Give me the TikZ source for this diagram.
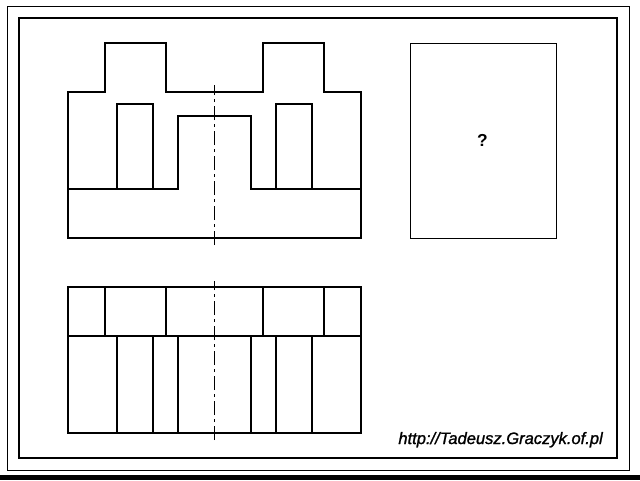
\documentclass[tikz,border=0pt]{standalone}
\usepackage{fontspec}
\setmainfont{Liberation Sans}
\newfontfamily\urlfont[ItalicFeatures={FakeBold=1.2}]{Liberation Sans}
\tikzset{
  thick line/.style={line width=1.5pt,line join=miter,line cap=rect},
  thin line/.style={line width=0.75pt},
  axis line/.style={line width=0.75pt,dash pattern=on 10.5pt off 3pt on 2.25pt off 3pt},
}
\begin{document}
\begin{tikzpicture}[x=0.75pt,y=-0.75pt]
\useasboundingbox (0,0) rectangle (640,480);
\fill[white] (0,0) rectangle (640,480);
\fill[black] (0,475) rectangle (640,480);
\draw[thin line] (7.5,6.5) rectangle (629.5,470);
\draw[thick line] (19,18) rectangle (617,458);
% front view
\draw[thick line] (68,238) -- (68,92) -- (105,92) -- (105,43) -- (166,43) -- (166,92) -- (263,92) -- (263,43) -- (324,43) -- (324,92) -- (361,92) -- (361,238) -- cycle;
\draw[thick line] (68,189) -- (178,189) -- (178,116) -- (251,116) -- (251,189) -- (361,189);
\draw[thick line] (117,189) -- (117,104) -- (153,104) -- (153,189);
\draw[thick line] (276,189) -- (276,104) -- (312,104) -- (312,189);
\draw[axis line] (214.5,245) -- (214.5,85);
% top view
\draw[thick line] (68,287) rectangle (361,433);
\draw[thick line] (68,336) -- (361,336);
\foreach \x in {105,166,263,324} \draw[thick line] (\x,287) -- (\x,336);
\foreach \x in {117,153,178,251,276,312} \draw[thick line] (\x,336) -- (\x,433);
\draw[axis line] (214.5,440) -- (214.5,281);
% side view placeholder
\draw[thin line] (410.5,43.5) rectangle (556.5,238.5);
\node[font=\bfseries\fontsize{13pt}{15pt}\selectfont,inner sep=0pt] (q) at (482.5,140) {?};
\node[font=\urlfont\itshape\fontsize{12.4pt}{14pt}\selectfont,inner sep=0pt,anchor=base east] (url) at (603,444) {http://Tadeusz.Graczyk.of.pl};
\end{tikzpicture}
\end{document}
